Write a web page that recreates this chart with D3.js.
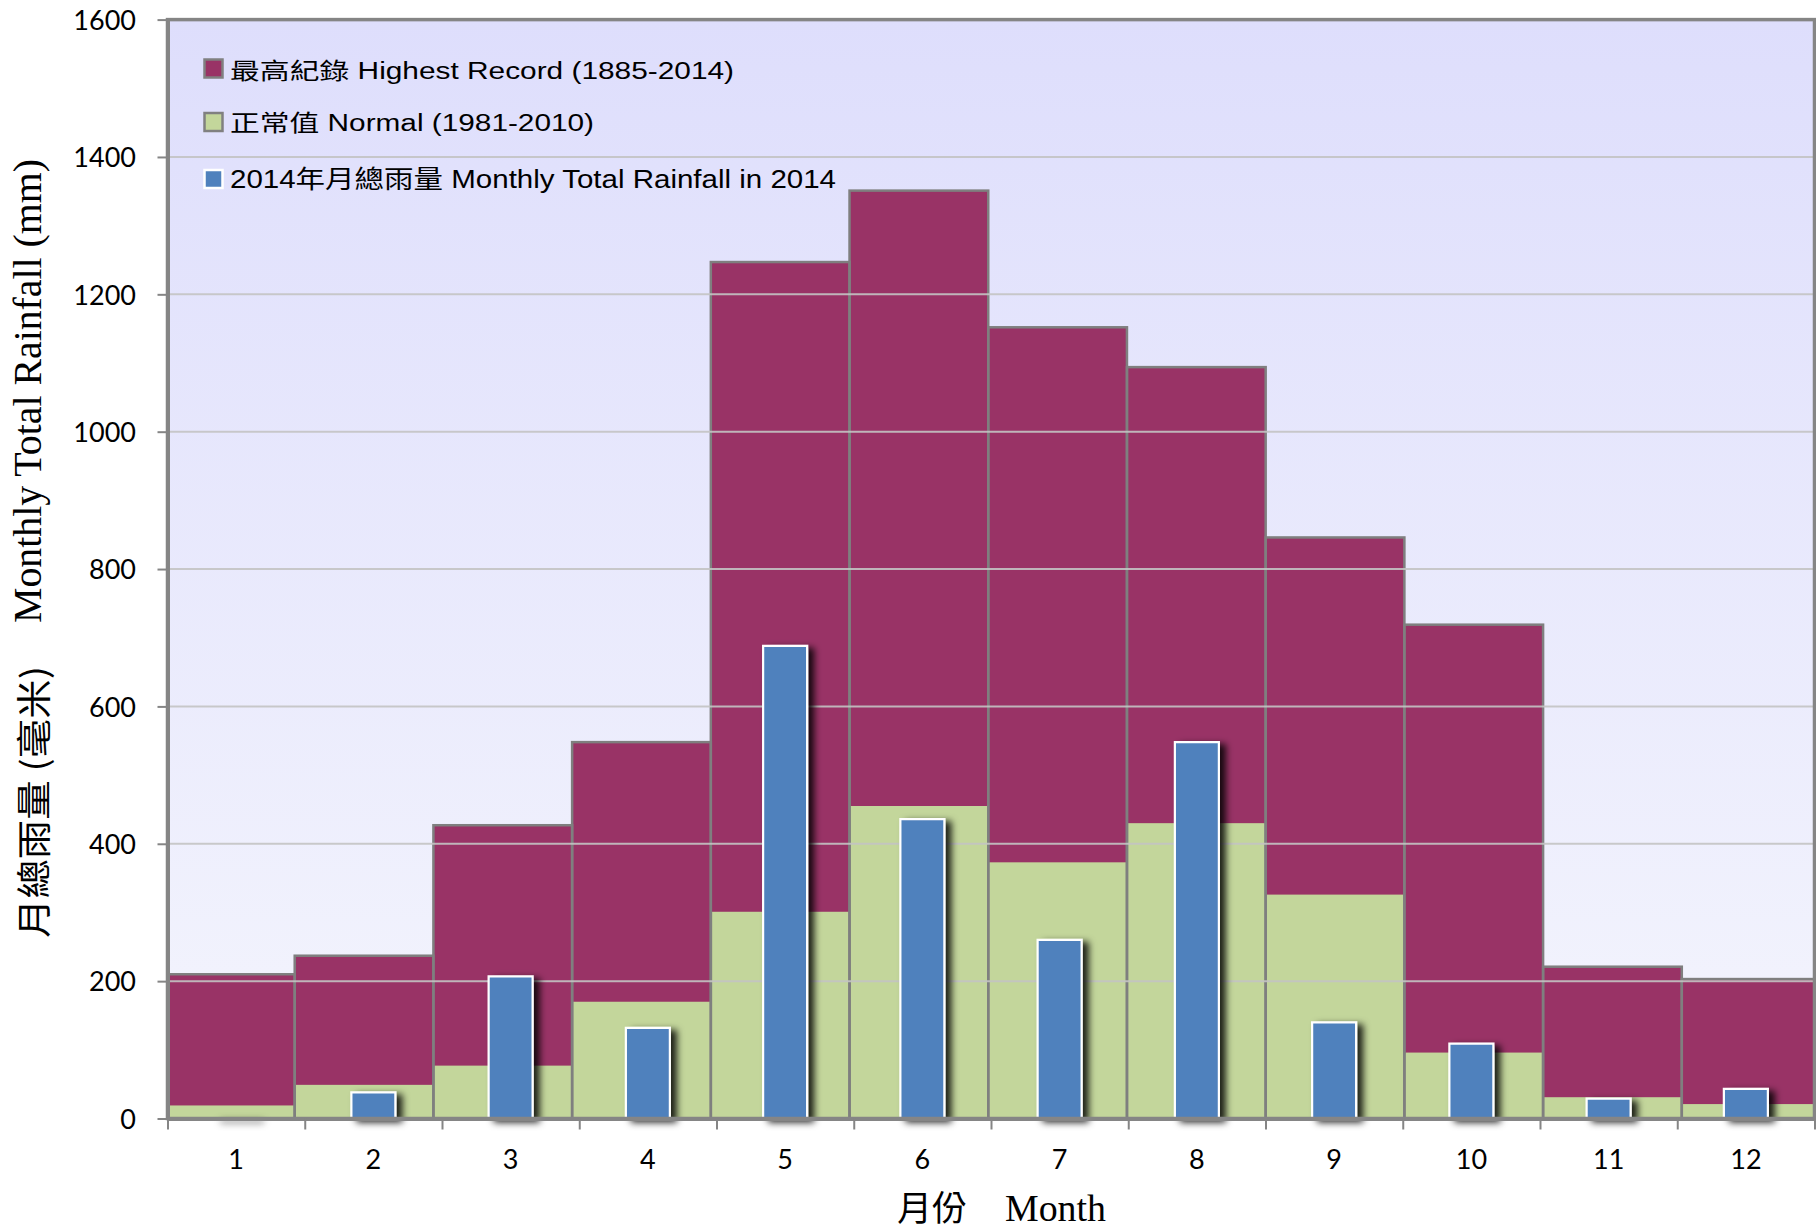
<!DOCTYPE html>
<html>
<head>
<meta charset="utf-8">
<script src="https://cdn.jsdelivr.net/npm/d3@7"></script>
<style>
  html, body { margin: 0; padding: 0; background: #ffffff; }
  svg { display: block; }
</style>
</head>
<body>
<svg id="chart" width="1816" height="1232"></svg>
<script>
// Monthly rainfall, Hong Kong (mm)
const months = ["1", "2", "3", "4", "5", "6", "7", "8", "9", "10", "11", "12"];
const highestRecord = [210, 237, 427, 548, 1247, 1351, 1152, 1094, 846, 719, 221, 203];
const normal = [19, 49, 77, 170, 301, 455, 373, 430, 326, 96, 31, 21];
const rainfall2014 = [0, 38, 207, 132, 688, 436, 260, 548, 140, 109, 29, 43];
const yTicks = [0, 200, 400, 600, 800, 1000, 1200, 1400, 1600];

const legendItems = [
  { label: "最高紀錄 Highest Record (1885-2014)", fill: "#993366", stroke: "#808080" },
  { label: "正常值 Normal (1981-2010)", fill: "#c3d69b", stroke: "#808080" },
  { label: "2014年月總雨量 Monthly Total Rainfall in 2014", fill: "#4f81bd", stroke: "#ffffff" }
];

const plot = { left: 167.5, right: 1814.5, top: 19.6, bottom: 1118.5 };
const svg = d3.select("#chart");

const x = d3.scaleBand().domain(months).range([plot.left, plot.right]);
const xEdges = d3.scaleLinear().domain([0, 12]).range([plot.left, plot.right]);
// record/normal columns are laid out on their own month-boundary scale, slightly wider than the axis bands
const colX = d3.scaleLinear().domain([0, 12]).range([plot.left - 11.5, plot.right + 6]);
const y = d3.scaleLinear().domain([0, 1600]).range([plot.bottom, plot.top]);

const defs = svg.append("defs");
const grad = defs.append("linearGradient")
  .attr("id", "plotBg").attr("x1", 0).attr("y1", 0).attr("x2", 0).attr("y2", 1);
grad.append("stop").attr("offset", "0%").attr("stop-color", "#dedefc");
grad.append("stop").attr("offset", "100%").attr("stop-color", "#f4f5fd");

defs.append("clipPath").attr("id", "plotClip")
  .append("rect")
  .attr("x", plot.left).attr("y", plot.top)
  .attr("width", plot.right - plot.left).attr("height", plot.bottom - plot.top);

const shadow = defs.append("filter").attr("id", "barShadow")
  .attr("x", "-30%").attr("y", "-10%").attr("width", "180%").attr("height", "130%");
shadow.append("feDropShadow")
  .attr("dx", 6).attr("dy", 3).attr("stdDeviation", 3.5)
  .attr("flood-color", "#000000").attr("flood-opacity", 0.85);

// plot background
svg.append("rect")
  .attr("x", plot.left).attr("y", plot.top)
  .attr("width", plot.right - plot.left).attr("height", plot.bottom - plot.top)
  .attr("fill", "url(#plotBg)");

// record and normal columns
const cols = svg.append("g").attr("clip-path", "url(#plotClip)");
const colData = months.map((m, i) => ({ i, hi: highestRecord[i], nm: normal[i] }));

cols.selectAll("rect.hi").data(colData).join("rect")
  .attr("class", "hi")
  .attr("x", d => colX(d.i)).attr("width", d => colX(d.i + 1) - colX(d.i))
  .attr("y", d => y(d.hi)).attr("height", d => y(0) - y(d.hi))
  .attr("fill", "#993366");

cols.selectAll("rect.nm").data(colData).join("rect")
  .attr("class", "nm")
  .attr("x", d => colX(d.i)).attr("width", d => colX(d.i + 1) - colX(d.i))
  .attr("y", d => y(d.nm)).attr("height", d => y(0) - y(d.nm))
  .attr("fill", "#c3d69b");

cols.selectAll("rect.outline").data(colData).join("rect")
  .attr("class", "outline")
  .attr("x", d => colX(d.i)).attr("width", d => colX(d.i + 1) - colX(d.i))
  .attr("y", d => y(d.hi)).attr("height", d => y(0) - y(d.hi))
  .attr("fill", "none").attr("stroke", "#7f7f7f").attr("stroke-width", 2.5);

// horizontal gridlines
svg.append("g").selectAll("line").data(yTicks.filter(t => t > 0)).join("line")
  .attr("x1", plot.left).attr("x2", plot.right)
  .attr("y1", d => y(d)).attr("y2", d => y(d))
  .attr("stroke", "#c4c4c4").attr("stroke-width", 2).attr("opacity", 0.9);

// 2014 monthly totals
const barW = 44;
svg.append("g").attr("filter", "url(#barShadow)")
  .selectAll("path").data(months.map((m, i) => ({ m, v: rainfall2014[i] }))).join("path")
  .attr("d", d => {
    const x0 = x(d.m) + x.bandwidth() / 2 - barW / 2, x1 = x0 + barW;
    const y0 = y(0), y1 = y(d.v);
    return `M${x0},${y0}V${y1}H${x1}V${y0}Z`;
  })
  .attr("fill", "#4f81bd").attr("stroke", "#ffffff").attr("stroke-width", 2.2);

// frame
svg.append("rect")
  .attr("x", plot.left).attr("y", plot.top)
  .attr("width", plot.right - plot.left).attr("height", plot.bottom - plot.top)
  .attr("fill", "none").attr("stroke", "#858585").attr("stroke-width", 3.5);

// y axis
const yAxis = svg.append("g")
  .attr("transform", `translate(${plot.left},0)`)
  .call(d3.axisLeft(y).tickValues(yTicks).tickFormat(d3.format("d"))
    .tickSize(10).tickSizeOuter(0).tickPadding(21.5));
yAxis.select(".domain").attr("stroke", "#858585").attr("stroke-width", 4);
yAxis.selectAll(".tick line").attr("stroke", "#858585").attr("stroke-width", 2);
yAxis.selectAll(".tick text")
  .attr("font-family", "Lato, 'Open Sans', sans-serif").attr("font-size", 27)
  .attr("fill", "#000").attr("dy", "0.36em");

// x axis: boundary ticks and centred month labels
const xTickAxis = svg.append("g")
  .attr("transform", `translate(0,${plot.bottom})`)
  .call(d3.axisBottom(xEdges).tickValues(d3.range(13)).tickFormat("").tickSize(11).tickSizeOuter(0));
xTickAxis.select(".domain").attr("stroke", "#858585").attr("stroke-width", 4);
xTickAxis.selectAll(".tick line").attr("stroke", "#858585").attr("stroke-width", 2);

const xLabelAxis = svg.append("g")
  .attr("transform", `translate(0,${plot.bottom})`)
  .call(d3.axisBottom(x).tickSize(0));
xLabelAxis.select(".domain").remove();
xLabelAxis.selectAll(".tick text")
  .attr("font-family", "Lato, 'Open Sans', sans-serif").attr("font-size", 27)
  .attr("fill", "#000").attr("y", 50.5).attr("dy", null);

// legend
const legendRows = [
  { baseline: 79, size: 23, swatchY: 59.5, width: 504 },
  { baseline: 131, size: 23, swatchY: 113, width: 364 },
  { baseline: 188, size: 25, swatchY: 170, width: 606 }
];
const legend = svg.append("g");
legendItems.forEach((item, i) => {
  const row = legendRows[i];
  legend.append("rect")
    .attr("x", 204.5).attr("y", row.swatchY).attr("width", 18).attr("height", 18)
    .attr("fill", item.fill).attr("stroke", item.stroke).attr("stroke-width", 2.5);
  legend.append("text")
    .attr("x", 230).attr("y", row.baseline)
    .attr("font-family", "'Liberation Sans', Arial, 'Noto Sans CJK TC', sans-serif")
    .attr("font-size", row.size).attr("fill", "#000")
    .attr("textLength", row.width).attr("lengthAdjust", "spacingAndGlyphs")
    .text(item.label);
});

// axis titles
svg.append("text")
  .attr("transform", "translate(47,0) rotate(-90)")
  .attr("x", -938).attr("y", 0)
  .attr("font-family", "'Noto Sans CJK TC', 'Liberation Serif', serif")
  .attr("font-size", 35).attr("fill", "#000")
  .attr("textLength", 272).attr("lengthAdjust", "spacingAndGlyphs")
  .text("月總雨量 (毫米)");
svg.append("text")
  .attr("transform", "translate(41,0) rotate(-90)")
  .attr("x", -623).attr("y", 0)
  .attr("font-family", "'Liberation Serif', 'Times New Roman', serif")
  .attr("font-size", 39).attr("fill", "#000")
  .attr("textLength", 464).attr("lengthAdjust", "spacingAndGlyphs")
  .text("Monthly Total Rainfall (mm)");

svg.append("text")
  .attr("x", 897).attr("y", 1221)
  .attr("font-family", "'Noto Sans CJK TC', serif")
  .attr("font-size", 35).attr("fill", "#000")
  .attr("textLength", 70).attr("lengthAdjust", "spacingAndGlyphs")
  .text("月份");
svg.append("text")
  .attr("x", 1005).attr("y", 1221)
  .attr("font-family", "'Liberation Serif', 'Times New Roman', serif")
  .attr("font-size", 37).attr("fill", "#000")
  .attr("textLength", 101).attr("lengthAdjust", "spacingAndGlyphs")
  .text("Month");
</script>
</body>
</html>
